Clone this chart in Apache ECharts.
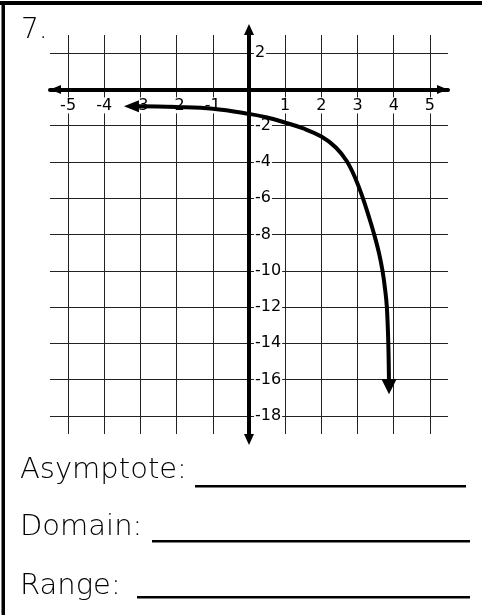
<!DOCTYPE html>
<html>
<head>
<meta charset="utf-8">
<script src="https://cdn.jsdelivr.net/npm/echarts@6/dist/echarts.min.js"></script>
<style>
  html, body { margin: 0; padding: 0; background: #fff; }
  #main { width: 482px; height: 615px; }
</style>
</head>
<body>
<div id="main"></div>
<script>
// grid ticks and labels
var xTicks = [-5, -4, -3, -2, -1, 0, 1, 2, 3, 4, 5];
var yTicks = [-18, -16, -14, -12, -10, -8, -6, -4, -2, 0, 2];
var xLabels = [-5, -4, -3, -2, -1, 1, 2, 3, 4, 5];
var yLabels = [-18, -16, -14, -12, -10, -8, -6, -4, -2, 2];

// the curve
var curveX = [-3.25, -3, -2, -1, 0, 0.5, 1, 1.5, 2, 2.4, 2.7, 2.95, 3.14, 3.31, 3.46, 3.59, 3.69, 3.76, 3.81, 3.85, 3.87];
var curveY = [-0.93, -0.93, -0.97, -1.07, -1.35, -1.55, -1.83, -2.15, -2.6, -3.2, -3.95, -4.95, -5.95, -7, -8, -9, -10, -11, -12, -14, -16.4];

var curveData = curveX.map(function (x, i) {
    var item = { value: [x, curveY[i]], symbol: 'none' };
    if (i === 0) {
        item.symbol = 'triangle';
        item.symbolSize = [12, 15];
        item.symbolRotate = 90;
    }
    if (i === curveX.length - 1) {
        item.symbol = 'triangle';
        item.symbolSize = [15, 15];
        item.symbolRotate = 180;
    }
    return item;
});

var xMin = -5.5, xMax = 5.5, yMin = -19, yMax = 3;
var gridW = 398, gridH = 399;

var labelFont = 'DejaVu Sans';
var textFont = 'DejaVu Sans';

var myChart = echarts.init(document.getElementById('main'));

var option = {
    animation: false,
    backgroundColor: '#fff',
    grid: {
        left: 50,
        top: 35,
        width: gridW,
        height: gridH,
        containLabel: false,
        outerBoundsMode: 'none'
    },
    xAxis: {
        type: 'value',
        min: xMin,
        max: xMax,
        position: 'bottom',
        // move the axis (line + labels) up to y = 0
        offset: -gridH * (0 - yMin) / (yMax - yMin),
        axisLine: {
            onZero: false,
            symbol: ['triangle', 'triangle'],
            symbolSize: [9, 11],
            symbolOffset: [5.5, -5.5],
            lineStyle: { color: '#000', width: 4 }
        },
        axisTick: { show: false, customValues: xTicks },
        splitLine: { show: true, lineStyle: { color: '#222', width: 1 } },
        axisLabel: {
            customValues: xLabels,
            margin: 8,
            color: '#000',
            fontSize: 16,
            fontFamily: labelFont,
            backgroundColor: '#fff',
            padding: [0, 1]
        }
    },
    yAxis: {
        type: 'value',
        min: yMin,
        max: yMax,
        position: 'left',
        // move the axis to x = 0
        offset: -gridW * (0 - xMin) / (xMax - xMin),
        axisLine: {
            onZero: false,
            symbol: ['triangle', 'triangle'],
            symbolSize: [10, 11],
            symbolOffset: [-5.5, 5.5],
            lineStyle: { color: '#000', width: 4 }
        },
        axisTick: { show: false, customValues: yTicks },
        splitLine: { show: true, lineStyle: { color: '#222', width: 1 } },
        axisLabel: {
            customValues: yLabels,
            inside: true,
            margin: 5,
            color: '#000',
            fontSize: 16,
            fontFamily: labelFont,
            backgroundColor: '#fff',
            padding: [0, 1]
        }
    },
    series: [{
        type: 'line',
        data: curveData,
        symbol: 'none',
        showSymbol: true,
        smooth: 0.4,
        lineStyle: { color: '#000', width: 4 },
        itemStyle: { color: '#000' },
        z: 5
    }],
    graphic: [
        { type: 'rect', shape: { x: 0, y: 1, width: 482, height: 4 }, style: { fill: '#000' } },
        { type: 'rect', shape: { x: 1.5, y: 1, width: 3.5, height: 614 }, style: { fill: '#000' } },
        { type: 'text', left: 21, top: 17, style: { text: '7.', font: '200 28px "' + textFont + '"', fill: '#000' } },
        { type: 'text', x: 20, y: 470, style: { text: 'Asymptote:', font: '200 29px "' + textFont + '"', fill: '#000', verticalAlign: 'middle' } },
        { type: 'text', x: 20, y: 527, style: { text: 'Domain:', font: '200 29px "' + textFont + '"', fill: '#000', verticalAlign: 'middle' } },
        { type: 'text', x: 20, y: 586, style: { text: 'Range:', font: '200 29px "' + textFont + '"', fill: '#000', verticalAlign: 'middle' } },
        { type: 'rect', shape: { x: 195, y: 485, width: 271, height: 2.5 }, style: { fill: '#000' } },
        { type: 'rect', shape: { x: 152, y: 540, width: 318, height: 2.5 }, style: { fill: '#000' } },
        { type: 'rect', shape: { x: 137, y: 596, width: 333, height: 2.5 }, style: { fill: '#000' } }
    ]
};

myChart.setOption(option);
</script>
</body>
</html>
